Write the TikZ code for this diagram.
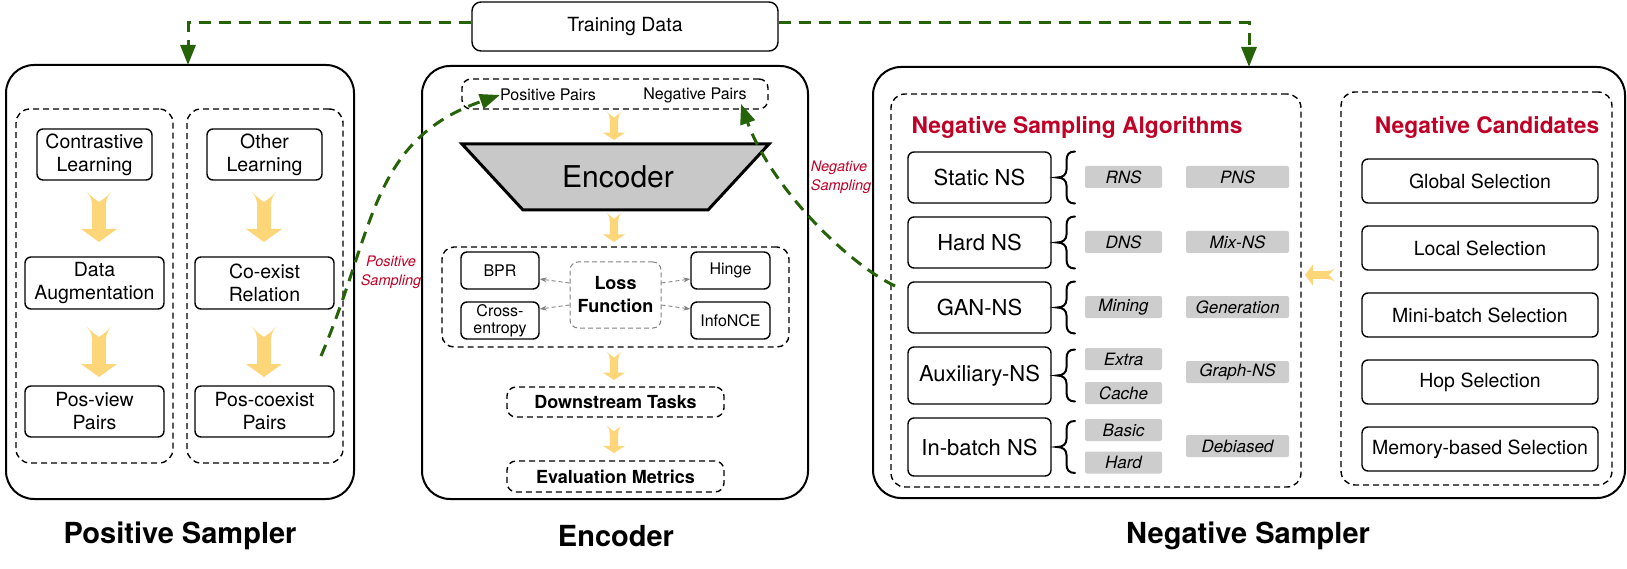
\documentclass[tikz,border=0pt]{standalone}
\usepackage{fontspec}
\setmainfont{TeX Gyre Heros}
\usetikzlibrary{arrows.meta}
\definecolor{gdark}{RGB}{38,98,8}
\definecolor{nred}{RGB}{192,0,38}
\definecolor{yel}{RGB}{254,214,122}
\definecolor{taggray}{RGB}{205,205,205}
\definecolor{encgray}{RGB}{200,200,200}
\definecolor{lgray}{RGB}{130,130,130}
\tikzset{
  every node/.style={inner sep=0pt},
  sbox/.style={draw, line width=1.4pt, rounded corners=6pt, align=center, font=\fontsize{19.5}{23}\selectfont},
  obox/.style={draw, line width=2pt, rounded corners=28pt},
  dbox/.style={draw, line width=1.4pt, dash pattern=on 6pt off 4pt, rounded corners=14pt},
  tagbox/.style={fill=taggray, rounded corners=2pt, minimum width=77pt, minimum height=22pt, font=\fontsize{17}{20}\selectfont\itshape},
  nsbox/.style={sbox, minimum width=143pt, font=\fontsize{22}{26}\selectfont},
  ncbox/.style={sbox, minimum width=236pt, minimum height=44pt},
  lbox/.style={sbox, minimum width=78pt, minimum height=37pt, font=\fontsize{16}{17}\selectfont},
  ebox/.style={dbox, rounded corners=9pt, minimum width=217pt, font=\fontsize{18}{22}\selectfont\bfseries},
  ttl/.style={font=\fontsize{29}{34}\selectfont\bfseries},
  rtitle/.style={font=\fontsize{22.8}{26}\selectfont\bfseries, text=nred},
  rlabel/.style={font=\fontsize{14.5}{19}\selectfont\itshape, text=nred, align=center},
  garrow/.style={draw=gdark, line width=3pt, dash pattern=on 12pt off 8pt, -{Triangle[length=20pt,width=15pt]}},
  larrow/.style={draw=lgray, line width=0.9pt, dash pattern=on 4pt off 3pt, -{Stealth[length=7pt,width=5pt]}},
  pics/cbrace/.style={code={
    \draw[line width=2pt, line cap=round] (18,-26) .. controls (12,-26) and (9.5,-23) .. (9.5,-17) -- (9.5,-8)
      .. controls (9.5,-3) and (6,0) .. (0,0) .. controls (6,0) and (9.5,3) .. (9.5,8) -- (9.5,17)
      .. controls (9.5,23) and (12,26) .. (18,26);
  }},
  pics/yarrow/.style={code={
    \fill[yel] (-0.33,0) .. controls (-0.2,0.1) .. (0,0.2) .. controls (0.2,0.1) .. (0.33,0)
      .. controls (0.2,0.12) and (0.19,0.2) .. (0.19,0.32) -- (0.19,0.74) -- (0.5,0.74) -- (0,1)
      -- (-0.5,0.74) -- (-0.19,0.74) -- (-0.19,0.32) .. controls (-0.19,0.2) and (-0.2,0.12) .. (-0.33,0) -- cycle;
  }}
}
\begin{document}
\begin{tikzpicture}[x=1pt,y=-1pt]
\useasboundingbox (0,0) rectangle (1627,569);

% Training data
\node[sbox, minimum width=306pt, minimum height=49pt, rounded corners=9pt] (td) at (625,26.5) {Training Data};

% ---------------- Positive sampler
\node[obox, minimum width=348pt, minimum height=434pt] (pos) at (180,282) {};
\node[dbox, minimum width=157pt, minimum height=354pt] (pl) at (94.5,286) {};
\node[dbox, minimum width=156pt, minimum height=354pt] (pr) at (265,286) {};
\node[sbox, minimum width=115pt, minimum height=51pt] (cl) at (94.5,154.5) {Contrastive\\Learning};
\node[sbox, minimum width=115pt, minimum height=51pt] (ol) at (264.5,154.5) {Other\\Learning};
\node[sbox, minimum width=139pt, minimum height=52pt] (da) at (94.5,283) {Data\\Augmentation};
\node[sbox, minimum width=139pt, minimum height=52pt] (cr) at (264.5,283) {Co-exist\\Relation};
\node[sbox, minimum width=139pt, minimum height=51pt] (pv) at (94.5,411.5) {Pos-view\\Pairs};
\node[sbox, minimum width=139pt, minimum height=51pt] (pc) at (264.5,411.5) {Pos-coexist\\Pairs};
\pic[xscale=36,yscale=50] at (99,192) {yarrow};
\pic[xscale=36,yscale=50] at (99,327) {yarrow};
\pic[xscale=36,yscale=50] at (264,192) {yarrow};
\pic[xscale=36,yscale=50] at (264,327) {yarrow};
\node[ttl] (t1) at (180,536) {Positive Sampler};

% ---------------- Encoder
\node[obox, minimum width=386pt, minimum height=433pt] (enc) at (615,282.5) {};
\node[dbox, rounded corners=9pt, minimum width=306pt, minimum height=30pt] (pairs) at (615,94) {};
\node[font=\fontsize{16}{19}\selectfont] (pp) at (548,95) {Positive Pairs};
\node[font=\fontsize{16}{19}\selectfont] (np) at (695,95) {Negative Pairs};
\pic[xscale=22,yscale=28] at (614,112) {yarrow};
\draw[line width=3pt, fill=encgray, line join=miter] (462,144) -- (769,144) -- (708,210) -- (523,210) -- cycle;
\node[font=\fontsize{30}{34}\selectfont] (enct) at (618,177) {Encoder};
\pic[xscale=22,yscale=29] at (614,213) {yarrow};
\node[dbox, rounded corners=12pt, minimum width=347pt, minimum height=100pt] (lossb) at (615.5,297) {};
\node[lbox] (bpr) at (500,270.5) {BPR};
\node[lbox] (ce) at (500,320.5) {Cross-\\entropy};
\node[lbox, minimum width=79pt] (hinge) at (730.5,270.5) {Hinge};
\node[lbox, minimum width=79pt] (nce) at (730.5,320.5) {InfoNCE};
\node[draw=lgray, line width=1pt, dash pattern=on 5pt off 3pt, rounded corners=8pt, minimum width=91pt, minimum height=66pt, align=center, font=\fontsize{18}{23}\selectfont\bfseries] (lf) at (615.5,295) {Loss\\Function};
\draw[larrow] ([yshift=12pt]lf.west) -- ([yshift=-8.5pt]bpr.east);
\draw[larrow] ([yshift=-10pt]lf.west) -- ([yshift=11.5pt]ce.east);
\draw[larrow] ([yshift=12pt]lf.east) -- ([yshift=-8.5pt]hinge.west);
\draw[larrow] ([yshift=-10pt]lf.east) -- ([yshift=11.5pt]nce.west);
\pic[xscale=22,yscale=28] at (614,352) {yarrow};
\node[ebox, minimum height=30pt] (dt) at (615.5,402) {Downstream Tasks};
\pic[xscale=22,yscale=27] at (614,426) {yarrow};
\node[ebox, minimum height=31pt] (em) at (615.5,476.5) {Evaluation Metrics};
\node[ttl] (t2) at (616,536) {Encoder};

% ---------------- Negative sampler
\node[obox, minimum width=752pt, minimum height=431pt] (neg) at (1249,282.5) {};
\node[dbox, minimum width=410pt, minimum height=393pt] (nsa) at (1096,290.5) {};
\node[rtitle] (nsat) at (1077,127) {Negative Sampling Algorithms};
\node[nsbox, minimum height=51pt] (st) at (979.5,177.5) {Static NS};
\node[nsbox, minimum height=51pt] (hd) at (979.5,242.5) {Hard NS};
\node[nsbox, minimum height=51pt] (gan) at (979.5,307.5) {GAN-NS};
\node[nsbox, minimum height=57pt] (aux) at (979.5,375.5) {Auxiliary-NS};
\node[nsbox, minimum height=58pt] (inb) at (979.5,447) {In-batch NS};
\pic at (1057,0 |- st.center) {cbrace};
\pic at (1057,0 |- hd.center) {cbrace};
\pic at (1057,0 |- gan.center) {cbrace};
\pic at (1057,0 |- aux.center) {cbrace};
\pic at (1057,0 |- inb.center) {cbrace};
\node[tagbox] (rns) at (1123.5,177) {RNS};
\node[tagbox, minimum width=103pt] (pns) at (1237.5,177) {PNS};
\node[tagbox] (dns) at (1123.5,242) {DNS};
\node[tagbox, minimum width=103pt] (mix) at (1237.5,242) {Mix-NS};
\node[tagbox] (mining) at (1123.5,307) {Mining};
\node[tagbox, minimum width=103pt] (gen) at (1237.5,307) {Generation};
\node[tagbox] (extra) at (1123.5,359) {Extra};
\node[tagbox] (cache) at (1123.5,393) {Cache};
\node[tagbox, minimum width=103pt] (gns) at (1237.5,372) {Graph-NS};
\node[tagbox] (basic) at (1123.5,430) {Basic};
\node[tagbox] (hard) at (1123.5,462.5) {Hard};
\node[tagbox, minimum width=103pt] (deb) at (1237.5,446) {Debiased};

\node[dbox, minimum width=271pt, minimum height=393pt] (ncb) at (1476.5,288.5) {};
\node[rtitle] (nct) at (1487,127) {Negative Candidates};
\node[ncbox] (gs) at (1480,181) {Global Selection};
\node[ncbox] (ls) at (1480,248) {Local Selection};
\node[ncbox] (ms) at (1480,315) {Mini-batch Selection};
\node[ncbox] (hs) at (1480,382) {Hop Selection};
\node[ncbox] (mem) at (1480,449) {Memory-based Selection};
\pic[rotate=-90,xscale=21,yscale=30] at (1335,275) {yarrow};
\node[ttl] (t3) at (1248,536) {Negative Sampler};

% ---------------- green connectors
\coordinate (posin) at (188,65);
\coordinate (negin) at (1249,67);
\draw[garrow] ([yshift=3.5pt]td.west) -| (posin);
\draw[garrow] ([yshift=3.5pt]td.east) -| (negin);
\coordinate (psstart) at (321,356);
\draw[garrow] (psstart) .. controls (375,230) and (370,140) .. (pp.west);
\coordinate (nsstart) at (895,286);
\coordinate (nsend) at (741,104);
\draw[garrow] (nsstart) .. controls (845,262) and (770,185) .. (nsend);
\node[rlabel] (pslab) at (391,272) {Positive\\Sampling};
\node[rlabel, align=left] (nslab) at (841,177) {Negative\\Sampling};
\end{tikzpicture}
\end{document}
